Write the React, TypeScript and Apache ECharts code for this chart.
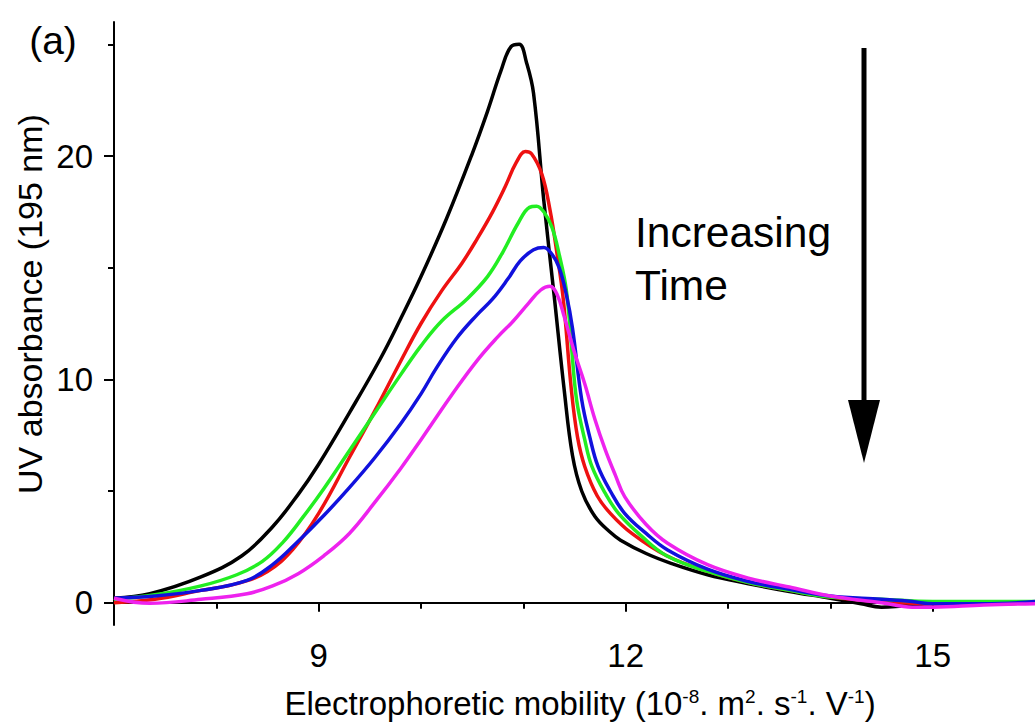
import React, { useEffect, useRef } from "react";
import * as echarts from "echarts";

const FONT = "'Liberation Sans', Arial, Helvetica, sans-serif";

const xMajorTicks = [9, 12, 15];
const xMinorTicks = [7, 8, 10, 11, 13, 14];
const yMajorTicks = [0, 10, 20];
const yMinorTicks = [5, 15, 25];

const seriesNames = ["t1", "t2", "t3", "t4", "t5"];
const seriesColors = ["#000000", "#ee1111", "#22ee22", "#1111dd", "#ee22ee"];

const blackData = [
  [7.0, 0.2], [7.35, 0.4], [7.85, 1.15], [8.25, 2.1], [8.55, 3.4], [8.8, 4.85], [9.0, 6.2],
  [9.3, 8.5], [9.6, 10.9], [9.8, 12.7], [10.0, 14.6], [10.25, 17.2], [10.5, 20.1], [10.65, 22.0],
  [10.78, 23.8], [10.88, 24.9], [10.96, 25.0], [11.03, 24.2], [11.1, 22.8], [11.2, 18.0],
  [11.3, 13.8], [11.4, 9.5], [11.48, 6.6], [11.57, 5.0], [11.7, 3.86], [11.85, 3.15],
  [11.95, 2.8], [12.2, 2.2], [12.45, 1.75], [12.8, 1.25], [13.2, 0.85], [13.6, 0.5],
  [14.0, 0.2], [14.3, -0.05], [14.5, -0.2], [14.7, -0.15], [15.0, -0.05], [15.5, -0.05], [16.0, 0.0],
];
const redData = [
  [7.0, 0.0], [7.4, 0.15], [7.85, 0.55], [8.2, 0.85], [8.5, 1.4], [8.75, 2.4], [9.0, 4.0],
  [9.3, 6.5], [9.55, 8.6], [9.8, 10.8], [10.0, 12.5], [10.2, 13.95], [10.4, 15.2], [10.55, 16.3],
  [10.7, 17.5], [10.82, 18.6], [10.93, 19.7], [11.02, 20.2], [11.08, 20.1], [11.18, 19.2],
  [11.26, 17.6], [11.33, 15.6], [11.39, 13.6], [11.47, 9.5], [11.53, 7.4], [11.6, 6.1],
  [11.72, 4.8], [11.85, 4.0], [12.06, 3.1], [12.4, 2.1], [12.8, 1.4], [13.2, 0.9],
  [13.6, 0.55], [14.0, 0.25], [14.5, 0.05], [15.0, -0.05], [15.5, -0.05], [16.0, 0.0],
];
const greenData = [
  [7.0, 0.15], [7.4, 0.35], [7.85, 0.75], [8.2, 1.25], [8.45, 1.85], [8.65, 2.7], [8.85, 3.85],
  [9.05, 5.1], [9.3, 6.8], [9.55, 8.5], [9.8, 10.2], [10.0, 11.5], [10.2, 12.6], [10.45, 13.6],
  [10.65, 14.6], [10.8, 15.7], [10.95, 17.0], [11.06, 17.7], [11.13, 17.75], [11.2, 17.5],
  [11.28, 16.8], [11.35, 15.6], [11.42, 14.0], [11.47, 11.5], [11.52, 9.1], [11.6, 7.3],
  [11.67, 6.1], [11.8, 4.9], [11.93, 4.0], [12.15, 3.0], [12.4, 2.1], [12.8, 1.4],
  [13.2, 0.9], [13.6, 0.55], [14.0, 0.25], [14.5, 0.15], [15.0, 0.05], [15.5, 0.05], [16.0, 0.05],
];
const blueData = [
  [7.0, 0.2], [7.4, 0.3], [7.85, 0.55], [8.3, 1.0], [8.55, 1.7], [8.8, 2.75], [9.05, 3.9],
  [9.3, 5.15], [9.55, 6.5], [9.8, 8.0], [10.0, 9.35], [10.15, 10.5], [10.35, 11.85], [10.55, 12.9],
  [10.7, 13.6], [10.85, 14.5], [10.97, 15.3], [11.1, 15.8], [11.2, 15.9], [11.28, 15.6],
  [11.35, 15.0], [11.42, 13.8], [11.48, 12.3], [11.57, 9.1], [11.65, 7.4], [11.73, 6.1],
  [11.85, 5.0], [11.99, 4.0], [12.2, 3.1], [12.41, 2.36], [12.8, 1.5], [13.2, 0.95],
  [13.6, 0.6], [14.0, 0.3], [14.5, 0.15], [14.8, 0.05], [15.0, -0.05], [15.5, -0.05], [16.0, 0.05],
];
const magentaData = [
  [7.0, 0.2], [7.35, -0.03], [7.85, 0.15], [8.3, 0.4], [8.55, 0.75], [8.8, 1.3], [9.05, 2.1],
  [9.3, 3.1], [9.55, 4.5], [9.8, 6.0], [10.0, 7.3], [10.15, 8.3], [10.3, 9.3], [10.55, 10.85],
  [10.75, 11.9], [10.9, 12.6], [11.05, 13.4], [11.17, 14.0], [11.26, 14.17], [11.33, 13.8],
  [11.4, 12.8], [11.5, 11.2], [11.6, 9.8], [11.7, 8.2], [11.8, 6.85], [11.9, 5.7],
  [11.99, 4.75], [12.2, 3.5], [12.41, 2.66], [12.8, 1.7], [13.2, 1.1], [13.6, 0.7],
  [14.0, 0.3], [14.5, 0.0], [14.8, -0.2], [15.0, -0.2], [15.5, -0.1], [16.0, -0.05],
];

const allData = [blackData, redData, greenData, blueData, magentaData];

export default function App() {
  const ref = useRef<HTMLDivElement>(null);
  useEffect(() => {
    if (!ref.current) return;
    const chart = echarts.init(ref.current, undefined, { renderer: "svg" });
    const axisCommon = {
      type: "value" as const,
      splitLine: { show: false },
    };
    const centered = {
      align: "center",
      verticalAlign: "middle",
      textAlign: "center",
      textVerticalAlign: "middle",
    };
    const leftMid = {
      align: "left",
      verticalAlign: "middle",
      textAlign: "left",
      textVerticalAlign: "middle",
    };
    chart.setOption({
      animation: false,
      backgroundColor: "#ffffff",
      grid: { left: 114, right: -3, top: 22, bottom: 100, containLabel: false },
      xAxis: [
        {
          ...axisCommon,
          min: 7,
          max: 16,
          position: "bottom",
          axisLine: { show: true, lineStyle: { color: "#000", width: 2 } },
          axisTick: { show: true, customValues: xMajorTicks, length: 9, lineStyle: { color: "#000", width: 2 } },
          axisLabel: { show: true, customValues: xMajorTicks, color: "#000", fontSize: 33, fontFamily: FONT, margin: 14 },
        },
        {
          ...axisCommon,
          min: 7,
          max: 16,
          position: "bottom",
          axisLine: { show: false },
          axisTick: { show: true, customValues: xMinorTicks, length: 6, lineStyle: { color: "#000", width: 2 } },
          axisLabel: { show: false },
        },
      ],
      yAxis: [
        {
          ...axisCommon,
          min: -1,
          max: 26,
          position: "left",
          axisLine: { show: true, lineStyle: { color: "#000", width: 2 } },
          axisTick: { show: true, customValues: yMajorTicks, length: 10, lineStyle: { color: "#000", width: 2 } },
          axisLabel: { show: true, customValues: yMajorTicks, color: "#000", fontSize: 33, fontFamily: FONT, margin: 21 },
        },
        {
          ...axisCommon,
          min: -1,
          max: 26,
          position: "left",
          axisLine: { show: false },
          axisTick: { show: true, customValues: yMinorTicks, length: 6, lineStyle: { color: "#000", width: 2 } },
          axisLabel: { show: false },
        },
      ],
      series: allData.map((d, i) => ({
        name: seriesNames[i],
        type: "line",
        xAxisIndex: 0,
        yAxisIndex: 0,
        data: d,
        showSymbol: false,
        smooth: 0.4,
        lineStyle: { color: seriesColors[i], width: 3.5 },
        z: 2 + i,
      })),
      graphic: [
        {
          type: "text",
          x: 53,
          y: 40,
          style: { text: "(a)", x: 0, y: 0, fill: "#000", font: `39px ${FONT}`, ...centered },
        },
        {
          type: "text",
          x: 30,
          y: 304,
          rotation: Math.PI / 2,
          style: { text: "UV absorbance (195 nm)", x: 0, y: 0, fill: "#000", font: `34px ${FONT}`, ...centered },
        },
        {
          type: "text",
          x: 580,
          y: 703,
          style: {
            text: "{n|Electrophoretic mobility (10}{s|-8}{n|. m}{s|2}{n|. s}{s|-1}{n|. V}{s|-1}{n|)}",
            x: 0,
            y: 0,
            fill: "#000",
            ...centered,
            rich: {
              n: { fontSize: 33, lineHeight: 32, fontFamily: FONT, fill: "#000" },
              s: { fontSize: 19, lineHeight: 19, fontFamily: FONT, verticalAlign: "top", fill: "#000" },
            },
          },
        },
        {
          type: "text",
          x: 635,
          y: 232,
          style: { text: "Increasing", x: 0, y: 0, fill: "#000", font: `42.5px ${FONT}`, ...leftMid },
        },
        {
          type: "text",
          x: 635,
          y: 285,
          style: { text: "Time", x: 0, y: 0, fill: "#000", font: `42.5px ${FONT}`, ...leftMid },
        },
        {
          type: "line",
          shape: { x1: 864, y1: 48, x2: 864, y2: 405 },
          style: { stroke: "#000", lineWidth: 5 },
        },
        {
          type: "polygon",
          shape: { points: [[848, 400], [880, 400], [864, 463]] },
          style: { fill: "#000" },
        },
      ],
    });
    return () => chart.dispose();
  }, []);
  return (
    <div
      ref={ref}
      style={{ position: "fixed", left: 0, top: 0, width: 1035, height: 725, background: "#fff" }}
    />
  );
}
